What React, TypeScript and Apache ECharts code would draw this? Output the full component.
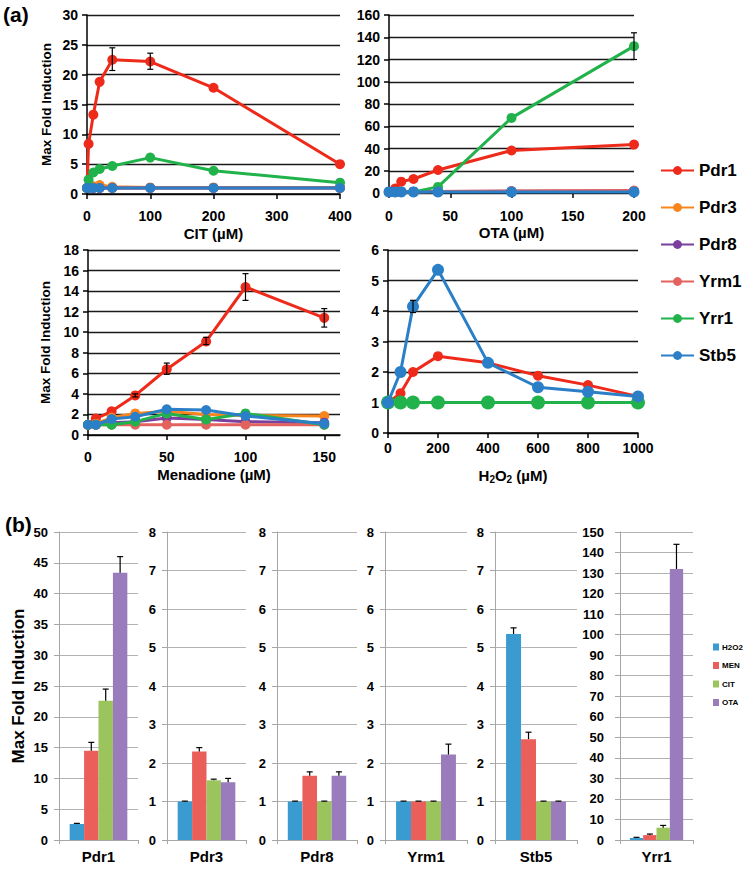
import { useEffect, useRef } from 'react';
import * as echarts from 'echarts';

const FONT = '"Liberation Sans", Arial, Helvetica, sans-serif';

// ---------- (a) line plots ----------
const geneNames = ['Pdr1', 'Pdr3', 'Pdr8', 'Yrm1', 'Yrr1', 'Stb5'];
const geneColors = ['#ee2a1b', '#f7861f', '#7b3f9e', '#e2625d', '#21b24b', '#2b7fc7'];

const citConc = [0, 2.5, 10, 20, 40, 100, 200, 400];
const citPdr1 = [1, 8.4, 13.3, 18.8, 22.5, 22.2, 17.8, 5.0];
const citPdr3 = [1, 1.1, 1.3, 1.5, 1.2, 1.1, 1.1, 1.1];
const citPdr8 = [1, 1, 1, 1, 1, 1, 1, 1];
const citYrm1 = [1, 1, 1, 1, 1, 1, 1, 1];
const citYrr1 = [1, 2.4, 3.6, 4.2, 4.7, 6.1, 3.9, 1.9];
const citStb5 = [1, 1, 1, 1, 1, 1, 1, 1];
const citErrConc = [40, 100];
const citErrLow = [20.7, 20.9];
const citErrHigh = [24.5, 23.6];

const otaConc = [0, 5, 10, 20, 40, 100, 200];
const otaPdr1 = [1, 4, 10.2, 12.6, 20.7, 38.2, 43.5];
const otaPdr3 = [1, 1, 1.1, 1.2, 1.3, 1.4, 1.5];
const otaPdr8 = [1, 1, 1.1, 1.2, 1.4, 1.6, 1.7];
const otaYrm1 = [1, 1, 1.1, 1.2, 1.3, 1.8, 2.2];
const otaYrr1 = [1, 1, 1, 1, 5.5, 67.5, 132];
const otaStb5 = [1, 1, 1, 1, 1, 1, 1];
const otaErrConc = [200];
const otaErrLow = [120];
const otaErrHigh = [144];

const menConc = [0, 5, 15, 30, 50, 75, 100, 150];
const menPdr1 = [1, 1.6, 2.3, 3.85, 6.4, 9.1, 14.4, 11.4];
const menPdr3 = [1, 1.1, 1.7, 2.1, 2.3, 2.0, 1.9, 1.85];
const menPdr8 = [1, 1, 1.2, 1.3, 1.65, 1.5, 1.3, 1.2];
const menYrm1 = [1, 1, 1, 1, 1, 1, 1, 1];
const menYrr1 = [1, 1, 1.0, 1.3, 2.1, 1.5, 2.1, 1.0];
const menStb5 = [1, 1, 1.56, 1.78, 2.5, 2.43, 1.85, 1.1];
const menErrConc = [30, 50, 75, 100, 150];
const menErrLow = [3.7, 5.9, 8.8, 13.1, 10.5];
const menErrHigh = [4.0, 7.0, 9.5, 15.7, 12.3];

const h2o2Conc = [0, 50, 100, 200, 400, 600, 800, 1000];
const h2o2Pdr1 = [1, 1.3, 2.0, 2.52, 2.3, 1.88, 1.57, 1.2];
const h2o2Pdr3 = [1, 1, 1, 1, 1, 1, 1, 1];
const h2o2Pdr8 = [1, 1, 1, 1, 1, 1, 1, 1];
const h2o2Yrm1 = [1, 1, 1, 1, 1, 1, 1, 1];
const h2o2Yrr1 = [1, 1, 1, 1, 1, 1, 1, 1];
const h2o2Stb5 = [1, 2.0, 4.15, 5.35, 2.3, 1.5, 1.35, 1.2];
const h2o2ErrConc = [100];
const h2o2ErrLow = [3.95];
const h2o2ErrHigh = [4.35];

const citTicks = [0, 100, 200, 300, 400];
const otaTicks = [0, 50, 100, 150, 200];
const menTicks = [0, 50, 100, 150];
const h2o2Ticks = [0, 200, 400, 600, 800, 1000];

// ---------- (b) bar panels ----------
const barGenes = ['Pdr1', 'Pdr3', 'Pdr8', 'Yrm1', 'Stb5', 'Yrr1'];
const stressNames = ['H2O2', 'MEN', 'CIT', 'OTA'];
const stressColors = ['#3a9bd0', '#ea5f5a', '#9cc45c', '#9a7cbc'];
const barH2O2 = [2.6, 1.0, 1.0, 1.0, 5.35, 1.0];
const barMEN = [14.5, 2.3, 1.67, 1.0, 2.62, 2.4];
const barCIT = [22.6, 1.55, 1.0, 1.0, 1.0, 6.0];
const barOTA = [43.4, 1.5, 1.67, 2.22, 1.0, 132];
const errH2O2 = [0.1, 0.01, 0.01, 0.01, 0.16, 0.3];
const errMEN = [1.35, 0.1, 0.1, 0.01, 0.18, 0.5];
const errCIT = [1.9, 0.03, 0.01, 0.01, 0.01, 1.1];
const errOTA = [2.6, 0.1, 0.1, 0.27, 0.01, 12];
const barYMax = [50, 8, 8, 8, 8, 150];
const barYStep = [5, 1, 1, 1, 1, 10];

// layout (pixels)
const lineGrids = [
  { left: 87, top: 15, width: 253, height: 179 },
  { left: 389, top: 15, width: 245, height: 178 },
  { left: 88, top: 250, width: 252, height: 185 },
  { left: 388, top: 250, width: 250, height: 183 },
];
const barGrids = [
  { left: 59, width: 79 },
  { left: 167, width: 79 },
  { left: 277, width: 80 },
  { left: 385, width: 82 },
  { left: 495, width: 82 },
  { left: 620, width: 73 },
];

const bold = { fontFamily: FONT, fontWeight: 'bold' as const, color: '#000' };

function buildOption() {
  const plots = [
    {
      conc: citConc, vals: [citPdr1, citPdr3, citPdr8, citYrm1, citYrr1, citStb5],
      xMax: 400, ticks: citTicks, yMax: 30, yStep: 5, xName: 'CIT (µM)', yName: 'Max Fold Induction',
      err: { gene: 0, c: citErrConc, lo: citErrLow, hi: citErrHigh }, lm: 15, ng: 32, yng: 34,
      sizes: [10, 10, 10, 10, 10, 10],
    },
    {
      conc: otaConc, vals: [otaPdr1, otaPdr3, otaPdr8, otaYrm1, otaYrr1, otaStb5],
      xMax: 200, ticks: otaTicks, yMax: 160, yStep: 20, xName: 'OTA (µM)', yName: '',
      err: { gene: 4, c: otaErrConc, lo: otaErrLow, hi: otaErrHigh }, lm: 16, ng: 32, yng: 34,
      sizes: [10, 10, 10, 10, 10, 11],
    },
    {
      conc: menConc, vals: [menPdr1, menPdr3, menPdr8, menYrm1, menYrr1, menStb5],
      xMax: 160, ticks: menTicks, yMax: 18, yStep: 2, xName: 'Menadione (µM)', yName: 'Max Fold Induction',
      err: { gene: 0, c: menErrConc, lo: menErrLow, hi: menErrHigh }, lm: 15, ng: 32, yng: 36,
      sizes: [10, 10, 10, 10, 10, 10],
    },
    {
      conc: h2o2Conc, vals: [h2o2Pdr1, h2o2Pdr3, h2o2Pdr8, h2o2Yrm1, h2o2Yrr1, h2o2Stb5],
      xMax: 1000, ticks: h2o2Ticks, yMax: 6, yStep: 1, xName: '{n|H}{s|2}{n|O}{s|2}{n| (µM)}', yName: '',
      err: { gene: 5, c: h2o2ErrConc, lo: h2o2ErrLow, hi: h2o2ErrHigh }, lm: 8, ng: 33, yng: 34,
      sizes: [10, 10, 10, 10, 14, 12],
    },
  ];

  const grid: any[] = [];
  const xAxis: any[] = [];
  const yAxis: any[] = [];
  const series: any[] = [];

  plots.forEach((p, pi) => {
    grid.push({ ...lineGrids[pi], containLabel: false, outerBoundsMode: 'none' });
    xAxis.push({
      type: 'value', gridIndex: pi, min: 0, max: p.xMax,
      name: p.xName, nameLocation: 'middle', nameGap: p.ng, nameMoveOverlap: false,
      nameTextStyle: {
        ...bold, fontSize: 15,
        rich: {
          n: { ...bold, fontSize: 15, lineHeight: 18, verticalAlign: 'middle' },
          s: { ...bold, fontSize: 10, lineHeight: 18, verticalAlign: 'bottom' },
        },
      },
      axisLine: { show: true, onZero: false, lineStyle: { color: '#000', width: 1.5 } },
      axisTick: { show: true, length: 5, customValues: p.ticks, lineStyle: { color: '#000', width: 1.5 } },
      axisLabel: {
        ...bold, fontSize: 14, margin: p.lm, customValues: p.ticks,
        formatter: (v: number) => String(v),
      },
      splitLine: { show: false },
    });
    yAxis.push({
      type: 'value', gridIndex: pi, min: 0, max: p.yMax, interval: p.yStep,
      name: p.yName, nameLocation: 'middle', nameGap: p.yng, nameRotate: 90, nameMoveOverlap: false,
      nameTextStyle: { ...bold, fontSize: 13.5 },
      axisLine: { show: true, lineStyle: { color: '#000', width: 1.5 } },
      axisTick: { show: true, length: 5, lineStyle: { color: '#000', width: 1.5 } },
      axisLabel: { ...bold, fontSize: 14, margin: 9, formatter: (v: number) => String(v) },
      splitLine: { show: true, lineStyle: { color: '#1a1a1a', width: 1.3 } },
    });
    p.vals.forEach((v, gi) => {
      series.push({
        type: 'line', name: geneNames[gi], xAxisIndex: pi, yAxisIndex: pi,
        data: p.conc.map((c, i) => [c, v[i]]),
        symbol: 'circle', symbolSize: p.sizes[gi], showSymbol: true,
        lineStyle: { color: geneColors[gi], width: 3 },
        itemStyle: { color: geneColors[gi] },
        z: 2 + gi * 0.01,
      });
    });
    series.push({
      type: 'custom', name: 'err' + pi, xAxisIndex: pi, yAxisIndex: pi, z: 5,
      data: p.err.c.map((c, i) => [c, p.err.lo[i], p.err.hi[i]]),
      encode: { x: 0, y: [1, 2] },
      renderItem: (params: any, api: any) => {
        const x = api.value(0);
        const pLo = api.coord([x, api.value(1)]);
        const pHi = api.coord([x, api.value(2)]);
        const c = 3;
        const style = { stroke: '#000', lineWidth: 1.2 };
        return {
          type: 'group',
          children: [
            { type: 'line', shape: { x1: pLo[0], y1: pLo[1], x2: pHi[0], y2: pHi[1] }, style },
            { type: 'line', shape: { x1: pLo[0] - c, y1: pLo[1], x2: pLo[0] + c, y2: pLo[1] }, style },
            { type: 'line', shape: { x1: pHi[0] - c, y1: pHi[1], x2: pHi[0] + c, y2: pHi[1] }, style },
          ],
        };
      },
    });
  });

  const barVals = [barH2O2, barMEN, barCIT, barOTA];
  const barErrs = [errH2O2, errMEN, errCIT, errOTA];
  const gapPct = 0.27;

  barGenes.forEach((g, gi) => {
    const idx = 4 + gi;
    grid.push({ left: barGrids[gi].left, width: barGrids[gi].width, top: 532, height: 308, containLabel: false, outerBoundsMode: 'none' });
    xAxis.push({
      type: 'category', gridIndex: idx, data: [g],
      axisLine: { show: true, lineStyle: { color: '#a6a6a6', width: 1 } },
      axisTick: { show: true, length: 4, alignWithLabel: false, lineStyle: { color: '#a6a6a6' } },
      axisLabel: { ...bold, fontSize: 15, margin: 9 },
      splitLine: { show: false },
    });
    yAxis.push({
      type: 'value', gridIndex: idx, min: 0, max: barYMax[gi], interval: barYStep[gi],
      name: gi === 0 ? 'Max Fold Induction' : '', nameLocation: 'middle', nameGap: 32, nameRotate: 90,
      nameMoveOverlap: false,
      nameTextStyle: { ...bold, fontSize: 17 },
      axisLine: { show: true, lineStyle: { color: '#a6a6a6', width: 1 } },
      axisTick: { show: true, length: 5, lineStyle: { color: '#a6a6a6' } },
      axisLabel: { ...bold, fontSize: 13, margin: gi === 5 ? 16 : 11 },
      splitLine: { show: true, lineStyle: { color: '#b3b3b3', width: 1 } },
    });
    stressNames.forEach((s, si) => {
      series.push({
        type: 'bar', name: s, xAxisIndex: idx, yAxisIndex: idx,
        data: [barVals[si][gi]],
        barGap: '0%', barCategoryGap: gapPct * 100 + '%',
        itemStyle: { color: stressColors[si] },
      });
    });
    series.push({
      type: 'custom', name: 'barerr' + gi, xAxisIndex: idx, yAxisIndex: idx, z: 5,
      data: stressNames.map((s, si) => [0, si, barVals[si][gi], barErrs[si][gi]]),
      encode: { x: 0, y: 2 },
      renderItem: (params: any, api: any) => {
        const k = api.value(1);
        const v = api.value(2);
        const e = api.value(3);
        const band = api.size([1, 0])[0];
        const group = band * (1 - gapPct);
        const bw = group / 4;
        const center = api.coord([0, 0])[0];
        const x = center - group / 2 + bw * (k + 0.5);
        const yTop = api.coord([0, v])[1];
        const yErr = api.coord([0, v + e])[1];
        const c = 3;
        const style = { stroke: '#000', lineWidth: 1.2 };
        return {
          type: 'group',
          children: [
            { type: 'line', shape: { x1: x, y1: yTop, x2: x, y2: yErr }, style },
            { type: 'line', shape: { x1: x - c, y1: yErr, x2: x + c, y2: yErr }, style },
          ],
        };
      },
    });
  });

  return {
    animation: false,
    backgroundColor: '#fff',
    textStyle: { fontFamily: FONT },
    grid,
    xAxis,
    yAxis,
    series,
    legend: [
      {
        data: geneNames, orient: 'vertical', left: 655, top: 157,
        itemWidth: 33, itemHeight: 11, itemGap: 20,
        textStyle: { ...bold, fontSize: 17 },
        selectedMode: false,
      },
      {
        data: stressNames, orient: 'vertical', left: 708, top: 638,
        itemWidth: 6, itemHeight: 7, itemGap: 10.5, icon: 'rect',
        textStyle: { ...bold, fontSize: 8, padding: [0, 0, 0, -2] },
        selectedMode: false,
      },
    ],
    graphic: [
      { type: 'text', left: 3, top: 4, style: { text: '(a)', font: 'bold 21px ' + FONT, fill: '#000' } },
      { type: 'text', left: 5, top: 514, style: { text: '(b)', font: 'bold 21px ' + FONT, fill: '#000' } },
    ],
  };
}

export default function App() {
  const ref = useRef<HTMLDivElement>(null);
  useEffect(() => {
    if (!ref.current) return;
    const chart = echarts.init(ref.current, null, { renderer: 'svg' });
    chart.setOption(buildOption() as any);
    return () => chart.dispose();
  }, []);
  return (
    <div
      ref={ref}
      style={{ position: 'absolute', left: 0, top: 0, width: 745, height: 874, background: '#fff' }}
    />
  );
}
